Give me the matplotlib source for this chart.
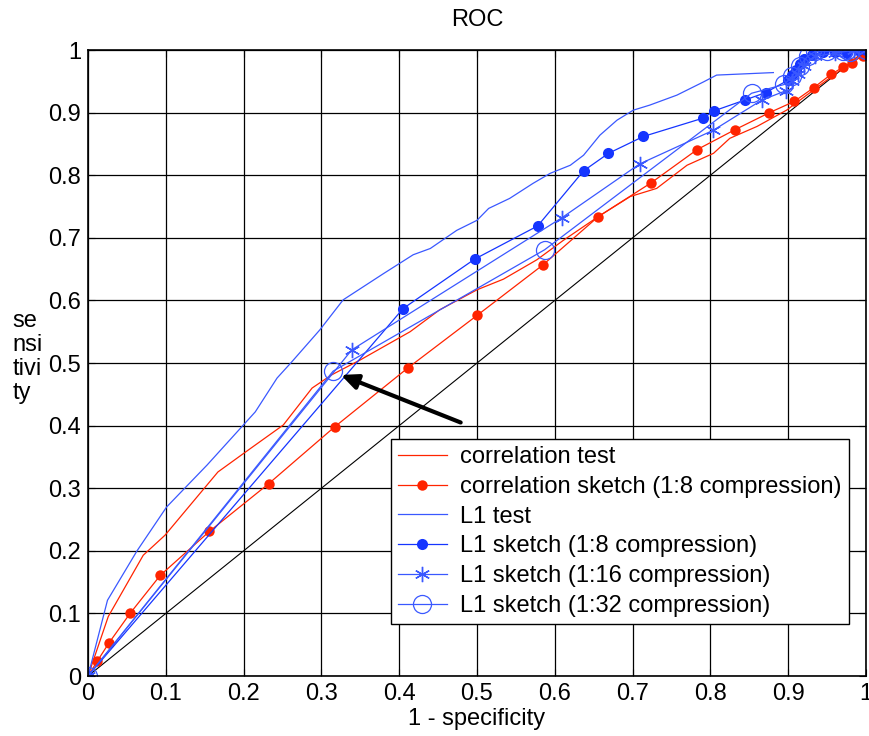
#!/usr/bin/env python3
"""
ROC curves for correlation / L1 tests and their sketches.
Output: out.png
"""

import matplotlib.pyplot as plt
import numpy as np

plt.rcParams["font.family"] = ["Liberation Sans", "DejaVu Sans"]

RED = "#ff2400"
BLUE = "#1535ff"
BLUE_LIGHT = "#3a58ff"
FS = 17

# correlation test (no markers)
corr_test_x = [0, 0.026, 0.071, 0.099, 0.167, 0.206, 0.251, 0.288, 0.313, 0.350,
               0.414, 0.452, 0.500, 0.534, 0.577, 0.611, 0.656, 0.697, 0.731,
               0.770, 0.804, 0.825, 0.860, 0.898, 0.941, 0.975, 1.0]
corr_test_y = [0, 0.095, 0.193, 0.225, 0.326, 0.361, 0.401, 0.460, 0.481, 0.505,
               0.550, 0.585, 0.617, 0.634, 0.665, 0.696, 0.734, 0.766, 0.779,
               0.816, 0.835, 0.859, 0.878, 0.904, 0.944, 0.975, 1.0]

# correlation sketch (1:8)
corr_sk_x = [0, 0.012, 0.027, 0.054, 0.093, 0.156, 0.232, 0.317, 0.411, 0.500,
             0.585, 0.656, 0.724, 0.783, 0.832, 0.876, 0.908, 0.933, 0.955,
             0.971, 0.982, 0.996, 1.0]
corr_sk_y = [0, 0.024, 0.053, 0.100, 0.161, 0.231, 0.307, 0.398, 0.492, 0.576,
             0.657, 0.734, 0.788, 0.841, 0.873, 0.900, 0.918, 0.940, 0.961,
             0.973, 0.980, 0.991, 1.0]

# L1 test (no markers)
l1_test_x = [0, 0.025, 0.063, 0.101, 0.153, 0.215, 0.243, 0.262, 0.298, 0.328,
             0.380, 0.418, 0.440, 0.474, 0.500, 0.515, 0.542, 0.572, 0.594,
             0.620, 0.637, 0.658, 0.680, 0.701, 0.722, 0.757, 0.791, 0.808, 0.881]
l1_test_y = [0, 0.121, 0.200, 0.270, 0.337, 0.422, 0.476, 0.502, 0.553, 0.601,
             0.643, 0.673, 0.683, 0.712, 0.728, 0.747, 0.763, 0.787, 0.803,
             0.816, 0.832, 0.864, 0.888, 0.904, 0.912, 0.928, 0.949, 0.960, 0.964]

# L1 sketch (1:8)
l1_8_x = [0, 0.405, 0.497, 0.578, 0.637, 0.669, 0.714, 0.790, 0.805, 0.844, 0.871,
          0.900, 0.905, 0.910, 0.915, 0.920, 0.930, 0.945, 0.960, 0.975, 0.990, 1.0]
l1_8_y = [0, 0.587, 0.666, 0.719, 0.807, 0.835, 0.862, 0.891, 0.903, 0.920, 0.932,
          0.952, 0.960, 0.968, 0.978, 0.985, 0.992, 0.997, 0.997, 0.995, 1.0, 1.0]

# L1 sketch (1:16)
l1_16_x = [0, 0.339, 0.609, 0.709, 0.804, 0.866, 0.897, 0.905, 0.912, 0.920,
           0.935, 0.960, 0.985, 1.0]
l1_16_y = [0, 0.521, 0.732, 0.818, 0.872, 0.920, 0.935, 0.950, 0.962, 0.975,
           0.990, 0.995, 1.0, 1.0]

# L1 sketch (1:32)
l1_32_x = [0, 0.315, 0.587, 0.853, 0.895, 0.905, 0.915, 0.925, 0.935, 0.950,
           0.970, 0.975, 0.980, 1.0]
l1_32_y = [0, 0.487, 0.681, 0.931, 0.945, 0.958, 0.975, 0.990, 0.998, 0.998,
           0.998, 1.0, 0.997, 1.0]

fig = plt.figure(figsize=(8.69, 7.36), dpi=100)
ax = fig.add_axes([0.1013, 0.0815, 0.8952, 0.8505])

ax.plot([0, 1], [0, 1], color="black", linewidth=0.8)

ax.plot(corr_test_x, corr_test_y, color=RED, linewidth=0.9,
        label="correlation test")
ax.plot(corr_sk_x, corr_sk_y, color=RED, linewidth=0.9, marker="o",
        markersize=7.5, markeredgewidth=0, label="correlation sketch (1:8 compression)")
ax.plot(l1_test_x, l1_test_y, color=BLUE_LIGHT, linewidth=0.9, label="L1 test")
ax.plot(l1_8_x, l1_8_y, color=BLUE, linewidth=0.9, marker="o",
        markersize=8, markeredgewidth=0, label="L1 sketch (1:8 compression)")
ax.plot(l1_16_x, l1_16_y, color=BLUE_LIGHT, linewidth=0.9, marker=(6, 2, 0),
        markersize=11, markeredgewidth=1.0, label="L1 sketch (1:16 compression)")
ax.plot(l1_32_x, l1_32_y, color=BLUE_LIGHT, linewidth=0.9, marker="o",
        markersize=13, markerfacecolor="none", markeredgewidth=0.9,
        label="L1 sketch (1:32 compression)")

ax.annotate("", xy=(0.325, 0.481), xytext=(0.479, 0.405),
            arrowprops=dict(arrowstyle="-|>,head_length=1.0,head_width=0.45",
                            color="black", linewidth=3, shrinkA=0, shrinkB=0))

ax.set_xlim(0, 1)
ax.set_ylim(0, 1)
ticks = np.round(np.arange(0, 1.01, 0.1), 1)
ax.set_xticks(ticks)
ax.set_yticks(ticks)
ax.set_xticklabels([f"{t:g}" for t in ticks])
ax.set_yticklabels([f"{t:g}" for t in ticks])
ax.tick_params(direction="in", top=True, right=True, labelsize=FS, length=5, pad=5)
ax.grid(True, color="black", linewidth=0.9)
for s in ax.spines.values():
    s.set_linewidth(1.2)

ax.set_title("ROC", fontsize=FS, pad=17)
ax.set_xlabel("1 - specificity", fontsize=FS, labelpad=2)
fig.text(0.014, 0.515, "se\nnsi\ntivi\nty", fontsize=FS, ha="left", va="center",
         linespacing=1.12)

leg = ax.legend(loc="lower right", bbox_to_anchor=(0.978, 0.083),
                fontsize=FS, frameon=True, fancybox=False, edgecolor="black",
                framealpha=1, borderpad=0.3, labelspacing=0.33, handlelength=2.1,
                handletextpad=0.55, borderaxespad=0)
leg.get_frame().set_linewidth(1.0)

fig.savefig("out.png", dpi=100)
